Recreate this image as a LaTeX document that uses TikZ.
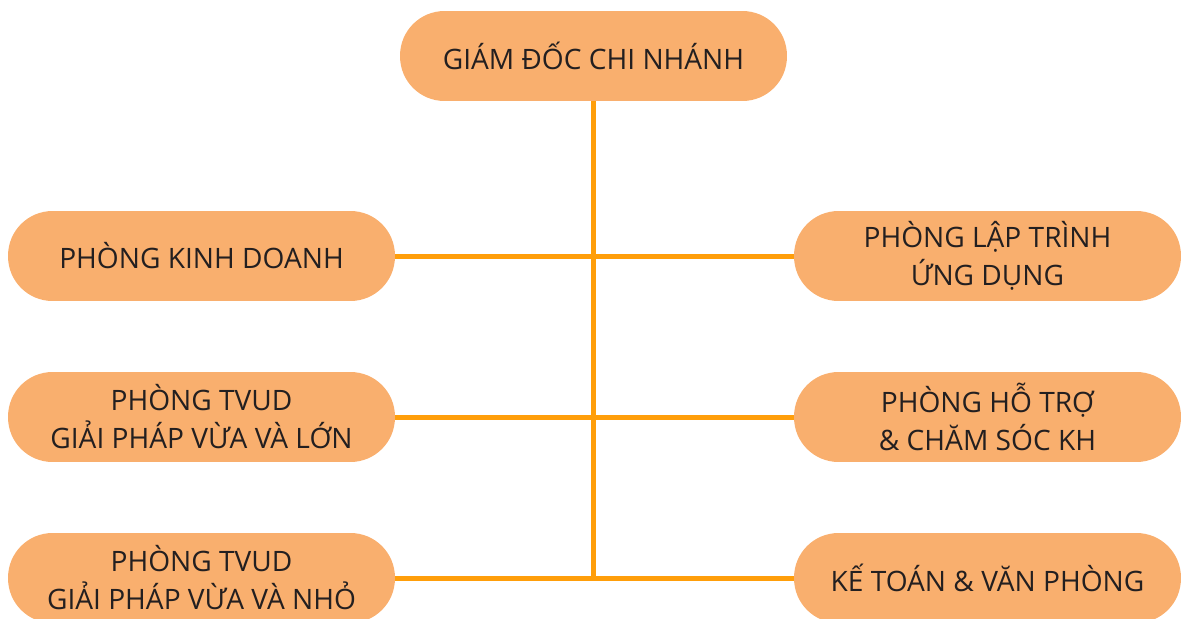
\documentclass[tikz,border=0pt]{standalone}
\usepackage{fontspec}
\setmainfont{Open Sans}
\usepackage{xcolor}
\usetikzlibrary{positioning}
\definecolor{boxfill}{HTML}{F9AF6E}
\definecolor{linkline}{HTML}{FF9E0A}
\definecolor{boxtext}{HTML}{231F20}

\begin{document}
\begin{tikzpicture}[
        x=0.02cm, y=-0.02cm,
        % Node styles
        dept/.style={rectangle, fill=boxfill, text=boxtext, minimum width=7.74cm,
                     minimum height=1.8cm, rounded corners=0.89cm, align=center,
                     font=\fontsize{16}{21.6}\selectfont, inner sep=0pt},
        link/.style={draw=linkline, line width=0.1cm}
    ]
        \useasboundingbox (0,0) rectangle (1184,619);

        % Director
        \node[dept] (director) at (593.5,56) {GIÁM ĐỐC CHI NHÁNH};

        % Left column
        \node[dept] (sales) at (201.5,256) {PHÒNG KINH DOANH};
        \node[dept] (tvudlarge) at (201.5,417) {PHÒNG TVUD\\GIẢI PHÁP VỪA VÀ LỚN};
        \node[dept] (tvudsmall) at (201.5,578) {PHÒNG TVUD\\GIẢI PHÁP VỪA VÀ NHỎ};

        % Right column
        \node[dept] (devapp) at (987.5,256) {PHÒNG LẬP TRÌNH\\ỨNG DỤNG};
        \node[dept] (support) at (987.5,417) {PHÒNG HỖ TRỢ\\\& CHĂM SÓC KH};
        \node[dept] (accounting) at (987.5,578) {KẾ TOÁN \& VĂN PHÒNG};

        % Connectors
        \draw[link] (director.south) -- (director.south |- accounting.west);
        \draw[link] (sales.east) -- (devapp.west);
        \draw[link] (tvudlarge.east) -- (support.west);
        \draw[link] (tvudsmall.east) -- (accounting.west);
    \end{tikzpicture}
\end{document}
